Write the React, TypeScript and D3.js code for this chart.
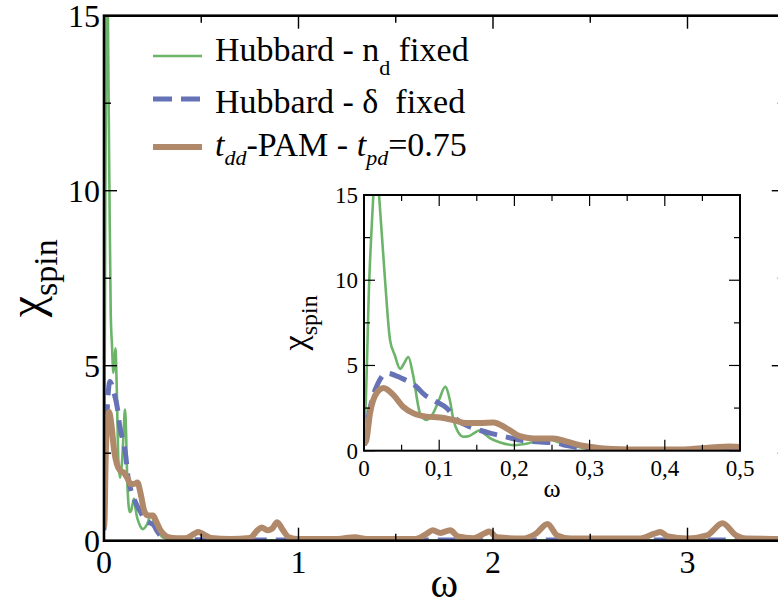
import React from "react";
import * as d3 from "d3";

// ---------- data ----------
const nFixedOmega = [0, 0.0015, 0.007, 0.0124, 0.0157, 0.02, 0.028, 0.0346, 0.041, 0.048, 0.053, 0.059, 0.065, 0.0745, 0.083, 0.092, 0.1, 0.108, 0.114, 0.119, 0.125, 0.132, 0.139, 0.147, 0.154, 0.16, 0.168, 0.18, 0.2, 0.22, 0.243, 0.255, 0.27, 0.287, 0.3, 0.33, 0.4, 0.5, 0.7, 1.0, 2.0, 3.0, 3.5];
const nFixedChi = [1.2, 2.0, 10, 15, 18, 15, 10, 6.5, 5.6, 4.8, 5.1, 5.5, 4.5, 2.2, 1.8, 2.2, 3.0, 3.75, 3.0, 1.8, 1.1, 0.82, 0.85, 1.05, 1.2, 1.0, 0.72, 0.5, 0.33, 0.45, 0.75, 0.55, 0.35, 0.2, 0.1, 0.05, 0.03, 0.02, 0.01, 0.01, 0.01, 0.01, 0.01];

const deltaFixedOmega = [0, 0.005, 0.012, 0.018, 0.03, 0.05, 0.07, 0.08, 0.095, 0.11, 0.124, 0.141, 0.154, 0.17, 0.19, 0.207, 0.238, 0.255, 0.27, 0.29, 0.31, 0.35, 0.4, 0.5, 0.7, 1.0, 2.0, 3.0, 3.5];
const deltaFixedChi = [0.3, 1.8, 3.2, 3.9, 4.55, 4.25, 3.75, 3.3, 2.9, 2.5, 1.8, 1.4, 1.2, 1.0, 0.8, 0.62, 0.5, 0.45, 0.3, 0.15, 0.08, 0.04, 0.03, 0.03, 0.02, 0.02, 0.02, 0.02, 0.02];

const pamOmega = [0, 0.003, 0.008, 0.017, 0.026, 0.039, 0.052, 0.066, 0.083, 0.101, 0.119, 0.136, 0.154, 0.172, 0.19, 0.207, 0.225, 0.252, 0.27, 0.287, 0.305, 0.33, 0.375, 0.42, 0.465, 0.485, 0.5, 0.55, 0.65, 0.75, 0.79, 0.81, 0.84, 0.865, 0.89, 0.92, 0.95, 1.0, 1.2, 1.29, 1.35, 1.6, 1.66, 1.69, 1.73, 1.78, 1.82, 1.9, 1.96, 1.98, 2.02, 2.15, 2.22, 2.28, 2.33, 2.4, 2.75, 2.83, 2.86, 2.9, 3.0, 3.1, 3.18, 3.25, 3.3, 3.5];
const pamChi = [0.4, 0.6, 2.2, 3.4, 3.68, 3.27, 2.58, 2.19, 2.0, 1.95, 1.8, 1.62, 1.62, 1.66, 1.3, 0.85, 0.72, 0.72, 0.53, 0.33, 0.2, 0.1, 0.07, 0.07, 0.2, 0.25, 0.22, 0.08, 0.05, 0.08, 0.3, 0.38, 0.3, 0.35, 0.53, 0.3, 0.1, 0.05, 0.05, 0.1, 0.05, 0.05, 0.2, 0.3, 0.22, 0.3, 0.12, 0.07, 0.22, 0.26, 0.1, 0.06, 0.2, 0.48, 0.15, 0.06, 0.06, 0.2, 0.25, 0.12, 0.06, 0.15, 0.5, 0.15, 0.06, 0.05];

const mainXTicks = [0, 1, 2, 3];
const mainXTickLabels = ["0", "1", "2", "3"];
const mainYTicks = [0, 5, 10, 15];
const mainYTickLabels = ["0", "5", "10", "15"];
const insetXTicks = [0, 0.1, 0.2, 0.3, 0.4, 0.5];
const insetXTickLabels = ["0", "0,1", "0,2", "0,3", "0,4", "0,5"];
const insetYTicks = [0, 5, 10, 15];
const insetYTickLabels = ["0", "5", "10", "15"];

const GREEN = "#6cb46a";
const BLUE = "#6672b6";
const BROWN = "#b0896b";
const FONT = "Liberation Serif, Times New Roman, Times, DejaVu Serif, serif";

type Scale = d3.ScaleLinear<number, number>;

function curve(x: Scale, y: Scale, om: number[], chi: number[]) {
  return (
    d3
      .line<number>()
      .x((d) => x(d))
      .y((_, i) => y(chi[i]))
      .curve(d3.curveMonotoneX)(om) || ""
  );
}

function Curves({ x, y, clip }: { x: Scale; y: Scale; clip: string }) {
  return (
    <g clipPath={`url(#${clip})`} fill="none" strokeLinejoin="round">
      <path d={curve(x, y, nFixedOmega, nFixedChi)} stroke={GREEN} strokeWidth={2.6} />
      <path d={curve(x, y, deltaFixedOmega, deltaFixedChi)} stroke={BLUE} strokeWidth={5} strokeDasharray="18 9" />
      <path d={curve(x, y, pamOmega, pamChi)} stroke={BROWN} strokeWidth={6} />
    </g>
  );
}

function Frame({
  x, y, xMajor, xMinor, yMajor, yMinor, major, minor, sw,
}: {
  x: Scale; y: Scale; xMajor: number[]; xMinor: number[]; yMajor: number[]; yMinor: number[];
  major: number; minor: number; sw: number;
}) {
  const [x0, x1] = x.range();
  const [y0, y1] = y.range();
  const t: any[] = [];
  const tickStroke = Math.max(1.2, sw * 0.55);
  xMajor.concat(xMinor).forEach((v, i) => {
    const len = i < xMajor.length ? major : minor;
    const px = x(v);
    t.push(<line key={`xb${i}`} x1={px} x2={px} y1={y0} y2={y0 - len} />);
    t.push(<line key={`xt${i}`} x1={px} x2={px} y1={y1} y2={y1 + len} />);
  });
  yMajor.concat(yMinor).forEach((v, i) => {
    const len = i < yMajor.length ? major : minor;
    const py = y(v);
    t.push(<line key={`yl${i}`} x1={x0} x2={x0 + len} y1={py} y2={py} />);
    t.push(<line key={`yr${i}`} x1={x1} x2={x1 - len} y1={py} y2={py} />);
  });
  return (
    <g stroke="#000" fill="none">
      <g strokeWidth={tickStroke}>{t}</g>
      <rect x={x0} y={y1} width={x1 - x0} height={y0 - y1} strokeWidth={sw} />
    </g>
  );
}

export default function App() {
  const x = d3.scaleLinear().domain([0, 3.5]).range([104, 784.75]);
  const y = d3.scaleLinear().domain([0, 15]).range([540.7, 15.7]);
  const xi = d3.scaleLinear().domain([0, 0.5]).range([364, 740]);
  const yi = d3.scaleLinear().domain([0, 15]).range([450.7, 195]);

  const mainXMinor = d3.range(0.5, 3.51, 1);
  const mainYMinor = [2.5, 7.5, 12.5];
  const insetXMinor = [0.05, 0.15, 0.25, 0.35, 0.45];
  const insetYMinor = [2.5, 7.5, 12.5];

  return (
    <svg
      width={778}
      height={606}
      style={{ position: "absolute", left: 0, top: 0, background: "#fff", fontFamily: FONT }}
    >
      <defs>
        <clipPath id="clipMain">
          <rect x={x.range()[0]} y={y.range()[1]} width={x.range()[1] - x.range()[0]} height={y.range()[0] - y.range()[1]} />
        </clipPath>
        <clipPath id="clipInset">
          <rect x={xi.range()[0]} y={yi.range()[1]} width={xi.range()[1] - xi.range()[0]} height={yi.range()[0] - yi.range()[1]} />
        </clipPath>
      </defs>
      <rect width={778} height={606} fill="#fff" />

      {/* main plot */}
      <Curves x={x} y={y} clip="clipMain" />
      <Frame x={x} y={y} xMajor={mainXTicks} xMinor={mainXMinor} yMajor={mainYTicks} yMinor={mainYMinor} major={13} minor={7} sw={2.6} />
      <g fontSize={32} fill="#000">
        {mainXTicks.map((v, i) => (
          <text key={`mx${i}`} x={x(v)} y={573} textAnchor="middle">{mainXTickLabels[i]}</text>
        ))}
        {mainYTicks.map((v, i) => (
          <text key={`my${i}`} x={100} y={y(v) + 11} textAnchor="end">{mainYTickLabels[i]}</text>
        ))}
      </g>
      <text x={(x.range()[0] + x.range()[1]) / 2} y={597} textAnchor="middle" fontSize={42}>ω</text>
      <text transform={`translate(42,${(y.range()[0] + y.range()[1]) / 2}) rotate(-90)`} textAnchor="middle" fontSize={48}>
        χ<tspan fontSize={34} dy={15}>spin</tspan>
      </text>

      {/* legend */}
      <g fontSize={34} fill="#000">
        <line x1={153} x2={202} y1={56} y2={56} stroke={GREEN} strokeWidth={2.6} />
        <text x={215} y={61}>
          Hubbard - n<tspan fontSize={22} dy={14}>d</tspan>
          <tspan dy={-14}>{"\u00a0fixed"}</tspan>
        </text>
        <line x1={153} x2={202} y1={99} y2={99} stroke={BLUE} strokeWidth={5} strokeDasharray="19 9" />
        <text x={215} y={113}>{"Hubbard - δ\u00a0 fixed"}</text>
        <line x1={153} x2={202} y1={147} y2={147} stroke={BROWN} strokeWidth={6} />
        <text x={215} y={156}>
          <tspan fontStyle="italic">t</tspan>
          <tspan fontStyle="italic" fontSize={22} dy={9}>dd</tspan>
          <tspan dy={-9}>-PAM - </tspan>
          <tspan fontStyle="italic">t</tspan>
          <tspan fontStyle="italic" fontSize={22} dy={9}>pd</tspan>
          <tspan dy={-9}>=0.75</tspan>
        </text>
      </g>

      {/* inset */}
      <rect x={xi.range()[0]} y={yi.range()[1]} width={xi.range()[1] - xi.range()[0]} height={yi.range()[0] - yi.range()[1]} fill="#fff" />
      <Curves x={xi} y={yi} clip="clipInset" />
      <Frame x={xi} y={yi} xMajor={insetXTicks} xMinor={insetXMinor} yMajor={insetYTicks} yMinor={insetYMinor} major={11} minor={6} sw={2} />
      <g fontSize={23} fill="#000">
        {insetXTicks.map((v, i) => (
          <text key={`ix${i}`} x={xi(v)} y={476} textAnchor="middle">{insetXTickLabels[i]}</text>
        ))}
        {insetYTicks.map((v, i) => (
          <text key={`iy${i}`} x={358} y={yi(v) + 8} textAnchor="end">{insetYTickLabels[i]}</text>
        ))}
      </g>
      <text x={(xi.range()[0] + xi.range()[1]) / 2} y={497} textAnchor="middle" fontSize={26}>ω</text>
      <text transform={`translate(306,${(yi.range()[0] + yi.range()[1]) / 2}) rotate(-90)`} textAnchor="middle" fontSize={34}>
        χ<tspan fontSize={24} dy={11}>spin</tspan>
      </text>
    </svg>
  );
}
